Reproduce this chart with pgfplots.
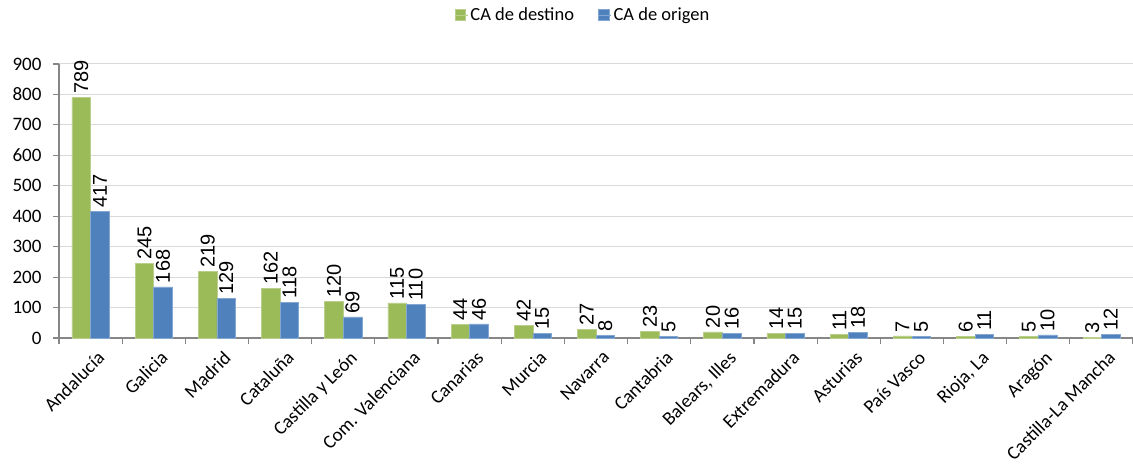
\documentclass[border=0pt]{standalone}
\usepackage{fontspec}
\setmainfont{Carlito}
\newfontfamily\arial{Liberation Sans}
\usepackage{pgfplots}
\pgfplotsset{compat=1.18}
\definecolor{cgreen}{HTML}{9BBB59}
\definecolor{cblue}{HTML}{4F81BD}
\definecolor{cgrid}{HTML}{D9D9D9}
\definecolor{caxis}{HTML}{868686}
\begin{document}
\begin{tikzpicture}
\begin{axis}[
  scale only axis,
  width=1074pt, height=274pt,
  ybar=0pt, bar width=18.6pt,
  xmin=-0.5, xmax=16.5,
  ymin=0, ymax=900,
  ytick={0,100,...,900},
  xtick={-0.5,0.5,...,16.5},
  x tick label as interval,
  xticklabels={Andalucía,Galicia,Madrid,Cataluña,Castilla y León,Com. Valenciana,Canarias,Murcia,Navarra,Cantabria,{Balears, Illes},Extremadura,Asturias,País Vasco,{Rioja, La},Aragón,Castilla-La Mancha},
  xticklabel style={rotate=45, anchor=north east, font=\fontsize{19}{19}\selectfont, inner sep=1pt, xshift=1pt, yshift=-7pt},
  yticklabel style={font=\fontsize{19}{19}\selectfont, xshift=-8pt},
  /pgf/number format/assume math mode=true,
  axis x line*=bottom, axis y line*=left,
  axis line style={caxis, line width=1.2pt},
  tick style={caxis, line width=1.2pt},
  tick align=outside, major tick length=6pt,
  ymajorgrids, grid style={cgrid, line width=1pt},
  clip=false,
  legend style={at={(0.488,1.179)}, anchor=center, draw=none, fill=none,
    font=\fontsize{18.5}{18.5}\selectfont, legend columns=2,
    /tikz/every even column/.append style={column sep=22pt}},
  legend image code/.code={\fill[#1] (0pt,-5.3pt) rectangle (10.6pt,5.3pt); \path (0pt,0pt) -- (13pt,0pt);},
  nodes near coords,
  every node near coord/.append style={rotate=90, anchor=west, font=\arial\fontsize{20}{20}\selectfont, inner sep=3.5pt, black},
]
\path (rel axis cs:0,0) coordinate (O) (rel axis cs:1,1) coordinate (TR);
\addplot[fill=cgreen, draw=cgreen!70!white, line width=0.6pt] coordinates {
(0,789) (1,245) (2,219) (3,162) (4,120) (5,115) (6,44) (7,42) (8,27) (9,23) (10,20) (11,14) (12,11) (13,7) (14,6) (15,5) (16,3)};
\addplot[fill=cblue, draw=cblue!70!white, line width=0.6pt] coordinates {
(0,417) (1,168) (2,129) (3,118) (4,69) (5,110) (6,46) (7,15) (8,8) (9,5) (10,16) (11,15) (12,18) (13,5) (14,11) (15,10) (16,12)};
\legend{CA de destino, CA de origen}
\end{axis}
\pgfresetboundingbox
\path ([xshift=-59pt,yshift=-125pt]O) rectangle ([yshift=64pt]TR);
\end{tikzpicture}
\end{document}
